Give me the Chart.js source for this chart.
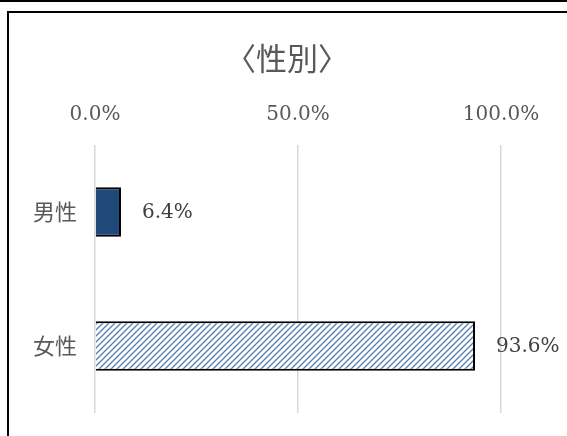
<!DOCTYPE html>
<html>
<head>
<meta charset="utf-8">
<script src="https://cdn.jsdelivr.net/npm/chart.js@4"></script>
<style>
  body { margin: 0; background: #fff; }
  #wrap { position: relative; width: 567px; height: 436px; overflow: hidden; }
  #topline { position: absolute; left: 0; top: 0; width: 567px; height: 2px; background: #000; }
  #box { position: absolute; left: 7px; top: 11px; width: 700px; height: 600px; border: 2px solid #000; background: #fff; }
  #chart { position: absolute; left: 0; top: 0; }
</style>
</head>
<body>
<div id="wrap">
  <div id="topline"></div>
  <div id="box"></div>
  <canvas id="chart" width="567" height="436"></canvas>
</div>
<script>
// chart data
const titleText = '〈性別〉';
const categories = ['男性', '女性'];
const shares = [6.4, 93.6];
const axisTicks = [0, 50, 100];

// diagonal hatch for the second bar
function makeHatch() {
    const c = document.createElement('canvas');
    c.width = 6;
    c.height = 6;
    const g = c.getContext('2d');
    g.fillStyle = '#ffffff';
    g.fillRect(0, 0, 6, 6);
    g.strokeStyle = '#5b80b6';
    g.lineWidth = 1.4;
    g.beginPath();
    g.moveTo(-1, 7); g.lineTo(7, -1);
    g.moveTo(-4, 4); g.lineTo(4, -4);
    g.moveTo(2, 10); g.lineTo(10, 2);
    g.stroke();
    return g.createPattern(c, 'repeat');
}

// title is centred on the whole frame, not on the plot
const centreTitle = {
    id: 'centreTitle',
    afterLayout(chart) {
        if (chart.titleBlock) {
            chart.titleBlock.left = 7;
            chart.titleBlock.right = 567;
        }
    }
};

// draws the % value to the right of each bar
const valueLabels = {
    id: 'valueLabels',
    afterDatasetsDraw(chart) {
        const ctx = chart.ctx;
        const meta = chart.getDatasetMeta(0);
        ctx.save();
        ctx.font = '20px "DejaVu Serif"';
        ctx.fillStyle = '#404040';
        ctx.textAlign = 'left';
        ctx.textBaseline = 'middle';
        meta.data.forEach((bar, i) => {
            ctx.fillText(shares[i].toFixed(1) + '%', bar.x + 21, bar.y + 1);
        });
        ctx.restore();
    }
};

const ctx = document.getElementById('chart').getContext('2d');
new Chart(ctx, {
    type: 'bar',
    data: {
        labels: categories,
        datasets: [{
            data: shares,
            backgroundColor: ['#1f4979', makeHatch()],
            borderColor: '#000000',
            borderWidth: 2,
            barPercentage: 0.37,
            categoryPercentage: 1
        }]
    },
    options: {
        indexAxis: 'y',
        responsive: false,
        animation: false,
        layout: { padding: { left: 0, right: 66, top: 0, bottom: 23 } },
        plugins: {
            legend: { display: false },
            tooltip: { enabled: false },
            title: {
                display: true,
                text: titleText,
                color: '#595959',
                font: { family: '"Noto Sans CJK JP"', size: 31, weight: 'normal' },
                padding: { top: 40, bottom: 0 }
            }
        },
        scales: {
            x: {
                position: 'top',
                min: 0,
                max: 100,
                afterBuildTicks: (scale) => { scale.ticks = axisTicks.map(v => ({ value: v })); },
                afterFit: (scale) => { scale.height = 67.8; },
                border: { display: false },
                grid: { color: '#d9d9d9', lineWidth: 1.5, drawTicks: false },
                ticks: {
                    padding: 18,
                    color: '#595959',
                    font: { family: '"DejaVu Serif"', size: 20 },
                    callback: (v) => Number(v).toFixed(1) + '%'
                }
            },
            y: {
                afterFit: (scale) => {
                    scale.width = 95;
                    scale.paddingTop = 0;
                    scale.paddingBottom = 0;
                },
                border: { display: false },
                grid: { display: false, drawTicks: false },
                ticks: {
                    padding: 18,
                    color: '#595959',
                    font: { family: '"Noto Sans CJK JP"', size: 22 }
                }
            }
        }
    },
    plugins: [centreTitle, valueLabels]
});
</script>
</body>
</html>
